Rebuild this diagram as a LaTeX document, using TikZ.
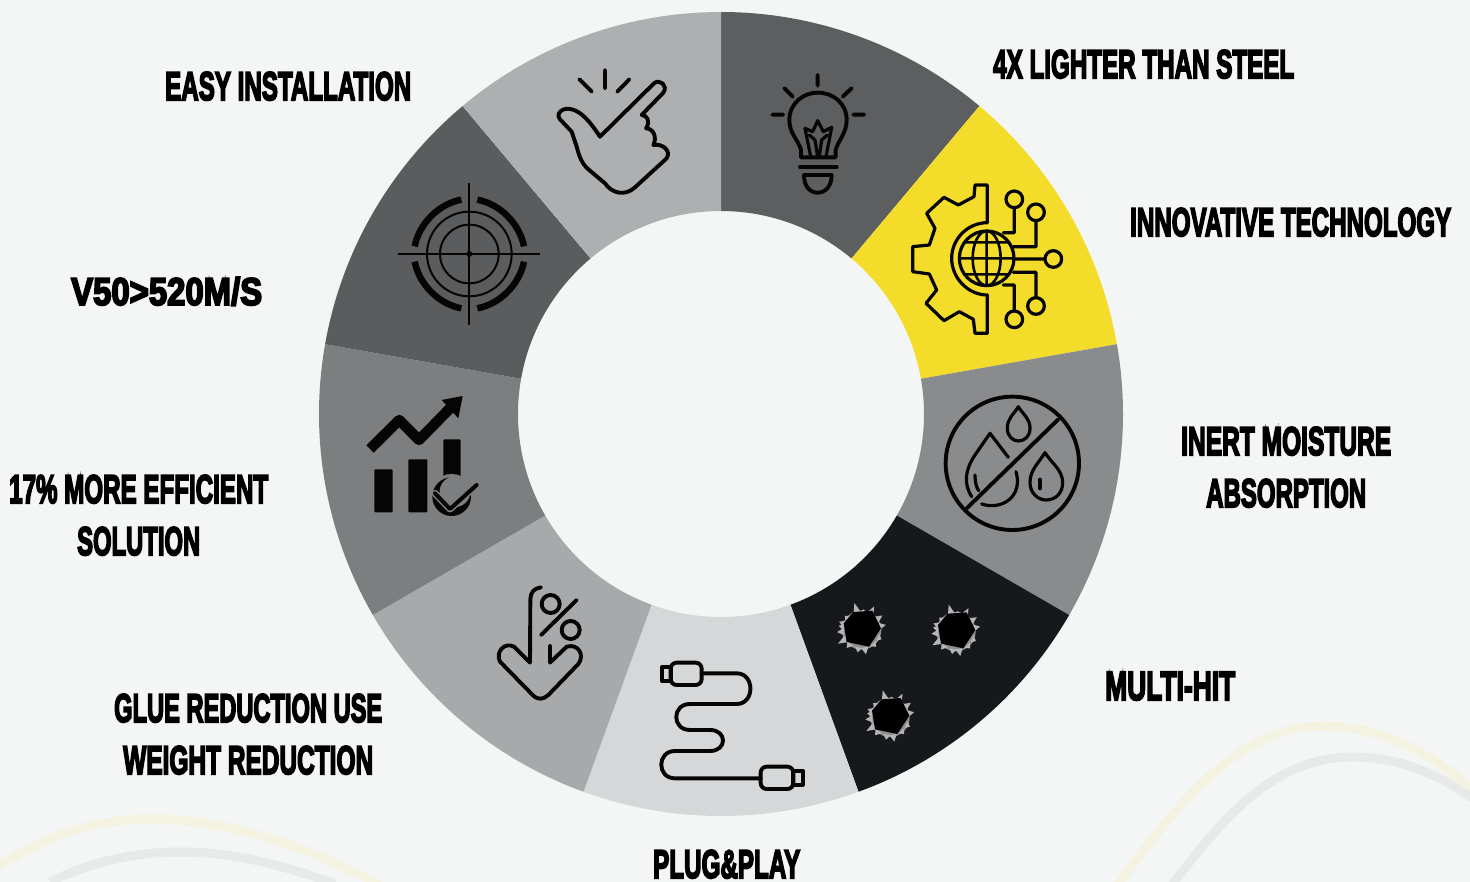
\documentclass[tikz,border=0pt]{standalone}
\usepackage{graphicx}
\usepackage{fontspec}
\setmainfont{Liberation Sans}[BoldFeatures={FakeBold=5}]
\definecolor{bgc}{HTML}{F4F6F5}
\definecolor{sbulb}{HTML}{5D5E60}
\definecolor{sgear}{HTML}{F4DC2A}
\definecolor{sdrop}{HTML}{8A8B8D}
\definecolor{shit}{HTML}{17181C}
\definecolor{splug}{HTML}{D6D7D9}
\definecolor{sglue}{HTML}{A7A9AB}
\definecolor{schart}{HTML}{7D7E80}
\definecolor{starget}{HTML}{5B5C5E}
\definecolor{shand}{HTML}{ADAFB1}
\definecolor{wavey}{HTML}{F4F3E2}
\definecolor{waveg}{HTML}{E8EAE9}
\definecolor{icon}{HTML}{050505}
\definecolor{rim}{HTML}{B4B5B6}
\tikzset{
  ico/.style={draw=icon,line width=3.9pt,line cap=round,line join=round},
  icothin/.style={draw=icon,line width=3.2pt,line cap=round,line join=round},
  thinico/.style={draw=icon,line width=2pt},
  wave/.style={line width=9pt},
  lbl/.style={anchor=base west,inner sep=0pt,text=black},
}
\newcommand{\lab}[6]{%
  \pgfmathsetmacro{\lw}{#3-#2}\pgfmathsetmacro{\lh}{#5-#4}%
  \node[lbl] (#1) at (#2,#5) {\resizebox{\lw pt}{\lh pt}{\bfseries #6}};}
\newcommand{\sect}[3]{%
  \fill[#3] (#1:402pt) arc[start angle=#1,end angle=#2,radius=402pt] -- (#2:203pt) arc[start angle=#2,end angle=#1,radius=203pt] -- cycle;}
\newcommand{\hole}[2]{%
  \begin{scope}[shift={(#1,#2)}]
  \fill[rim!75!shit] (0,0) circle[radius=59];
  \foreach \a/\r in {-170/70,-140/66,-105/84,-85/62,-62/80,-35/76,-12/74,25/66,50/66,80/74,100/68,130/70,150/82,175/74,200/72}{
    \fill[rim] (\a-12:54) -- (\a:\r) -- (\a+12:54) -- cycle;
  }
  \fill[black] (-25,-54) -- (32,-58) -- (58,-5) -- (22,50) -- (-45,36) -- (-54,-20) -- cycle;
  \end{scope}}
\begin{document}
\begin{tikzpicture}[x=1pt,y=-1pt]
\useasboundingbox (0,0) rectangle (1470,882);
\fill[bgc] (0,0) rectangle (1470,882);
% background waves
\begin{scope}
\clip (0,0) rectangle (1470,882);
\draw[wave,wavey] (-5,868) .. controls (50,833) and (100,819) .. (150,819) .. controls (230,819) and (310,848) .. (380,885);
\draw[wave,waveg] (50,882) .. controls (90,862) and (135,852) .. (180,852) .. controls (240,852) and (290,868) .. (335,884);
\draw[wave,wavey] (1118,885) .. controls (1180,800) and (1240,726) .. (1323,726) .. controls (1380,726) and (1440,755) .. (1475,795);
\draw[wave,waveg] (1172,885) .. controls (1225,815) and (1275,757) .. (1353,757) .. controls (1400,757) and (1440,775) .. (1475,800);
\end{scope}
% ring
\begin{scope}[shift={(721,414)},x=1pt,y=1pt]
\sect{90}{50}{sbulb}
\sect{50}{10}{sgear}
\sect{10}{-30}{sdrop}
\sect{-30}{-70}{shit}
\sect{-70}{-110}{splug}
\sect{-110}{-150}{sglue}
\sect{-150}{-190}{schart}
\sect{170}{130}{starget}
\sect{130}{90}{shand}
\end{scope}
% bulb + gear
\begin{scope}[shift={(720,40)},x=0.33333pt,y=-0.33333pt]
\draw[ico] (293,105)--(293,137) (193,145)--(218,170) (395,145)--(368,170) (157,224)--(190,224) (400,224)--(433,224);
\draw[ico] (243,352) -- (243,330) .. controls (235,300) and (208,280) .. (208,240) .. controls (208,190) and (250,158) .. (293,158) .. controls (340,158) and (380,190) .. (380,240) .. controls (380,280) and (355,300) .. (347,330) -- (347,352) -- cycle;
\draw[ico] (240,381)--(350,381);
\draw[ico] (252,405) -- (335,405) .. controls (335,440) and (315,458) .. (293,458) .. controls (270,458) and (252,440) .. (252,405) -- cycle;
\draw[icothin] (272,350) -- (255,265) -- (278,275) -- (293,242) -- (310,275) -- (335,262) -- (318,350);
\draw[icothin] (268,285) -- (285,300) -- (293,350) (322,285) -- (305,300) -- (298,350);
% gear
\draw[icothin] (802,548) -- (802,435) -- (765,435) -- (762,470) -- (715,495) -- (672,472) -- (620,520) -- (645,565) -- (628,615) -- (578,620) -- (578,695) -- (628,702) -- (650,750) -- (618,790) -- (672,842) -- (718,815) -- (760,838) -- (765,880) -- (802,880) -- (802,765);
\draw[icothin] (802,548) .. controls (745,548) and (695,595) .. (695,655) .. controls (695,715) and (745,765) .. (802,765);
\draw[icothin] (800,655) circle[x radius=82,y radius=82];
\draw[icothin,line width=2.6pt] (800,655) circle[x radius=42,y radius=82] (800,573)--(800,737) (718,655)--(882,655) (735,607)--(865,607) (735,703)--(865,703);
\draw[icothin] (883,478) circle[radius=25] (883,503)--(883,578)--(850,578);
\draw[icothin] (948,517) circle[radius=25] (948,542)--(948,620)--(880,620);
\draw[icothin] (1000,657) circle[radius=25] (975,657)--(882,657);
\draw[icothin] (948,798) circle[radius=25] (948,773)--(948,697)--(880,697);
\draw[icothin] (883,838) circle[radius=25] (883,813)--(883,735)--(850,735);
\end{scope}
% hand + target
\begin{scope}[shift={(360,50)},x=0.33333pt,y=-0.33333pt]
\draw[ico] (658,88)--(695,125) (735,60)--(735,115) (808,88)--(772,125);
\draw[ico] (720,260) -- (882,100) .. controls (900,85) and (925,108) .. (910,128) -- (845,195) .. controls (862,195) and (872,215) .. (858,235) .. controls (880,235) and (892,262) .. (880,285) .. controls (905,280) and (935,300) .. (920,325) -- (825,412) .. controls (795,440) and (755,430) .. (735,400) -- (685,358) .. controls (665,340) and (658,320) .. (650,290) -- (635,245) -- (600,208) .. controls (585,190) and (610,170) .. (635,178) .. controls (665,185) and (690,215) .. (720,260) -- cycle;
\draw[thinico] (328,612) circle[radius=88];
\draw[thinico] (328,612) circle[radius=127];
\draw[thinico] (115,612)--(540,612) (328,400)--(328,825);
\fill[icon] (328,612) circle[radius=9];
\draw[icon,line width=6.5pt] (352,449) .. controls (420,462) and (478,520) .. (492,589);
\draw[icon,line width=6.5pt] (304,449) .. controls (236,462) and (178,520) .. (164,589);
\draw[icon,line width=6.5pt] (352,775) .. controls (420,762) and (478,704) .. (492,635);
\draw[icon,line width=6.5pt] (304,775) .. controls (236,762) and (178,704) .. (164,635);
\end{scope}
% chart + percent
\begin{scope}[shift={(340,380)},x=0.33333pt,y=-0.33333pt]
\draw[icon,line width=10.5pt,line join=round] (90,207) -- (178,120) -- (237,180) -- (330,85);
\fill[icon] (305,60) -- (368,48) -- (355,115) -- cycle;
\fill[icon,rounded corners=1pt] (103,268) rectangle (158,397);
\fill[icon,rounded corners=1pt] (205,238) rectangle (262,397);
\fill[icon,rounded corners=1pt] (310,178) rectangle (362,310);
\fill[schart] (335,350) circle[radius=68];
\fill[icon] (335,350) circle[radius=58];
\fill[schart] (345,335) circle[radius=46];
\draw[schart,line width=7pt,line cap=round,line join=round] (285,340) -- (330,387) -- (410,315);
\draw[icon,line width=4pt,line cap=round,line join=round] (285,340) -- (330,387) -- (410,315);
\draw[ico] (603,622) .. controls (582,625) and (572,635) .. (571,660) -- (570,848) -- (522,800) .. controls (495,785) and (465,815) .. (480,845) -- (578,945) .. controls (595,962) and (610,958) .. (625,945) -- (715,852) .. controls (735,825) and (715,790) .. (680,800) -- (630,848) -- (630,797);
\draw[ico] (632,672) circle[radius=27] (692,750) circle[radius=27] (603,765)--(710,660);
\end{scope}
% cable + holes
\begin{scope}[shift={(640,590)},x=0.33333pt,y=-0.33333pt]
\draw[ico] (65,232) rectangle (92,272);
\draw[ico,rounded corners=6pt] (92,218) rectangle (185,285);
\draw[ico] (185,250) -- (290,250) .. controls (345,250) and (345,342) .. (290,342) -- (150,342) .. controls (95,342) and (95,420) .. (150,420) -- (210,420) .. controls (262,420) and (262,483) .. (210,483) -- (105,483) .. controls (50,483) and (50,565) .. (105,565) -- (362,565);
\draw[ico,rounded corners=6pt] (362,530) rectangle (460,597);
\draw[ico] (460,542) rectangle (488,584);
\hole{665}{120}
\hole{948}{125}
\hole{750}{382}
\end{scope}
% no-moisture
\begin{scope}[shift={(930,380)},x=0.33333pt,y=-0.33333pt]
\draw[ico] (247,250) circle[radius=200];
\draw[ico] (110,385)--(385,118);
\draw[icothin] (265,80) .. controls (250,105) and (232,115) .. (232,145) .. controls (232,170) and (250,183) .. (265,183) .. controls (285,183) and (300,168) .. (300,145) .. controls (300,115) and (280,105) .. (265,80) -- cycle;
\draw[icothin] (345,218) .. controls (325,250) and (300,270) .. (300,308) .. controls (300,340) and (325,360) .. (348,360) .. controls (378,360) and (398,338) .. (398,308) .. controls (398,270) and (365,250) .. (345,218) -- cycle;
\draw[icothin] (330,298)--(330,326);
\draw[icothin] (235,232) -- (180,160) -- (135,225) .. controls (105,270) and (100,310) .. (125,350);
\draw[icothin] (135,285) .. controls (135,305) and (138,320) .. (146,332);
\draw[icothin] (155,372) .. controls (215,392) and (280,350) .. (258,275);
\end{scope}
% labels
\lab{lteel}{993}{1294}{50}{78}{4X LIGHTER THAN STEEL}
\lab{linno}{1130}{1451}{208}{236}{INNOVATIVE TECHNOLOGY}
\lab{lmoisa}{1181}{1391}{427}{455}{INERT MOISTURE}
\lab{lmoisb}{1206}{1366}{479}{507}{ABSORPTION}
\lab{lhit}{1105}{1235}{672}{700}{MULTI-HIT}
\lab{lplug}{653}{800}{850}{878}{PLUG\&PLAY}
\lab{lgluea}{114}{382}{694}{722}{GLUE REDUCTION USE}
\lab{lglueb}{123}{373}{746}{774}{WEIGHT REDUCTION}
\lab{leffa}{9}{268}{475}{503}{17\% MORE EFFICIENT}
\lab{leffb}{77}{200}{527}{555}{SOLUTION}
\lab{lvel}{71}{262}{277}{305}{V50>520M/S}
\lab{leasy}{165}{411}{72}{100}{EASY INSTALLATION}
\end{tikzpicture}
\end{document}
